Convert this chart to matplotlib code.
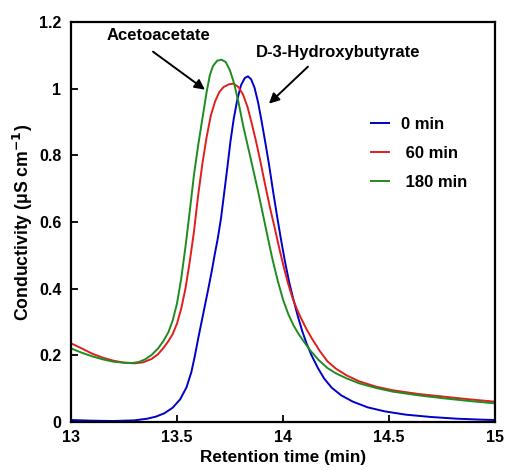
import matplotlib
matplotlib.use("Agg")
import matplotlib.pyplot as plt

plt.rcParams['font.family'] = ['Liberation Sans', 'DejaVu Sans']
plt.rcParams['font.weight'] = 'bold'
plt.rcParams['mathtext.default'] = 'bf'

# 0 min (blue)
x_0 = [13.00, 13.10, 13.20, 13.30, 13.36, 13.40, 13.44, 13.48, 13.515, 13.545, 13.568, 13.585,
       13.600, 13.616, 13.632, 13.648, 13.664, 13.678, 13.693, 13.708, 13.722, 13.738, 13.752,
       13.768, 13.785, 13.802, 13.820, 13.835, 13.850, 13.866, 13.883, 13.900, 13.917, 13.935,
       13.954, 13.973, 13.991, 14.010, 14.030, 14.050, 14.070, 14.090, 14.110, 14.135, 14.165,
       14.195, 14.23, 14.275, 14.33, 14.40, 14.48, 14.58, 14.70, 14.82, 14.94, 15.00]
y_0 = [0.006, 0.004, 0.003, 0.005, 0.010, 0.016, 0.026, 0.043, 0.068, 0.104, 0.150, 0.200,
       0.250, 0.300, 0.350, 0.400, 0.452, 0.502, 0.552, 0.612, 0.683, 0.765, 0.840,
       0.910, 0.968, 1.010, 1.032, 1.037, 1.028, 1.003, 0.958, 0.900, 0.838, 0.770,
       0.690, 0.615, 0.547, 0.480, 0.418, 0.366, 0.318, 0.275, 0.238, 0.200, 0.162,
       0.130, 0.103, 0.080, 0.061, 0.044, 0.032, 0.022, 0.015, 0.010, 0.007, 0.006]

# 60 min (red)
x_60 = [13.00, 13.05, 13.10, 13.15, 13.20, 13.25, 13.30, 13.34, 13.38, 13.41, 13.436, 13.46,
        13.48, 13.50, 13.52, 13.54, 13.56, 13.58, 13.60, 13.62, 13.64, 13.66, 13.68, 13.70,
        13.72, 13.745, 13.766, 13.790, 13.812, 13.833, 13.852, 13.872, 13.892, 13.915, 13.940,
        13.962, 13.985, 14.005, 14.025, 14.045, 14.065, 14.085, 14.11, 14.14, 14.175, 14.21,
        14.25, 14.30, 14.36, 14.44, 14.52, 14.64, 14.76, 14.88, 15.00]
y_60 = [0.236, 0.221, 0.205, 0.193, 0.184, 0.178, 0.176, 0.179, 0.189, 0.203, 0.222, 0.243,
        0.264, 0.295, 0.340, 0.400, 0.480, 0.570, 0.680, 0.775, 0.855, 0.920, 0.962, 0.990,
        1.005, 1.013, 1.015, 1.005, 0.982, 0.945, 0.898, 0.845, 0.787, 0.715, 0.640,
        0.580, 0.515, 0.462, 0.414, 0.373, 0.340, 0.312, 0.280, 0.247, 0.212, 0.182,
        0.160, 0.140, 0.122, 0.106, 0.095, 0.084, 0.076, 0.068, 0.061]

# 180 min (green)
x_180 = [13.00, 13.05, 13.10, 13.15, 13.20, 13.25, 13.29, 13.32, 13.35, 13.38, 13.41, 13.436,
         13.46, 13.48, 13.50, 13.52, 13.54, 13.56, 13.58, 13.60, 13.62, 13.64, 13.655, 13.67,
         13.69, 13.71, 13.73, 13.75, 13.77, 13.79, 13.813, 13.849, 13.880, 13.905, 13.928,
         13.95, 13.975, 14.00, 14.025, 14.05, 14.075, 14.10, 14.13, 14.17, 14.21, 14.25,
         14.30, 14.36, 14.44, 14.52, 14.64, 14.76, 14.88, 15.00]
y_180 = [0.221, 0.208, 0.197, 0.188, 0.181, 0.178, 0.177, 0.180, 0.188, 0.201, 0.220, 0.243,
         0.270, 0.305, 0.355, 0.430, 0.525, 0.630, 0.740, 0.830, 0.910, 0.990, 1.040, 1.068,
         1.084, 1.087, 1.080, 1.055, 1.015, 0.960, 0.887, 0.787, 0.700, 0.625, 0.555,
         0.490, 0.425, 0.368, 0.324, 0.290, 0.263, 0.240, 0.214, 0.185, 0.162, 0.146,
         0.131, 0.116, 0.102, 0.091, 0.080, 0.071, 0.063, 0.056]

labels = ['0 min', ' 60 min', ' 180 min']
colors = ['#0000C8', '#E01E1E', '#1E8C1E']

xticks = [13, 13.5, 14, 14.5, 15]
xtick_labels = ['13', '13.5', '14', '14.5', '15']
yticks = [0, 0.2, 0.4, 0.6, 0.8, 1.0, 1.2]
ytick_labels = ['0', '0.2', '0.4', '0.6', '0.8', '1', '1.2']

fig = plt.figure(figsize=(5.06, 4.70), dpi=100)
ax = fig.add_axes([0.1403, 0.1021, 0.8377, 0.8511])

for xs, ys, lab, c in zip([x_0, x_60, x_180], [y_0, y_60, y_180], labels, colors):
    ax.plot(xs, ys, color=c, lw=1.4, label=lab, solid_joinstyle='round')

ax.set_xlim(13, 15)
ax.set_ylim(0, 1.2)
ax.set_xticks(xticks)
ax.set_xticklabels(xtick_labels)
ax.set_yticks(yticks)
ax.set_yticklabels(ytick_labels)
ax.tick_params(direction='in', length=5, width=1.3, labelsize=11.5)
ax.tick_params(axis='y', pad=7)
ax.tick_params(axis='x', pad=6)
for s in ax.spines.values():
    s.set_linewidth(1.6)

ax.set_xlabel('Retention time (min)', fontsize=12.3, fontweight='bold', labelpad=3)
ax.set_ylabel('Conductivity (μS cm$^{-1}$)', fontsize=12.7, fontweight='bold', labelpad=3)

leg = ax.legend(loc='upper left', bbox_to_anchor=(0.672, 0.80), frameon=False,
                fontsize=12, handlelength=1.1, handletextpad=0.7, labelspacing=0.85)

ax.text(13.415, 1.159, 'Acetoacetate', ha='center', va='center', fontsize=12, fontweight='bold')
ax.text(14.259, 1.108, 'D-3-Hydroxybutyrate', ha='center', va='center', fontsize=12, fontweight='bold')
ax.annotate('', xy=(13.632, 0.997), xytext=(13.387, 1.111),
            arrowprops=dict(arrowstyle='-|>', color='black', lw=1.4, mutation_scale=15,
                            shrinkA=0, shrinkB=0))
ax.annotate('', xy=(13.934, 0.955), xytext=(14.118, 1.066),
            arrowprops=dict(arrowstyle='-|>', color='black', lw=1.4, mutation_scale=15,
                            shrinkA=0, shrinkB=0))

fig.savefig('out.png', dpi=100)
